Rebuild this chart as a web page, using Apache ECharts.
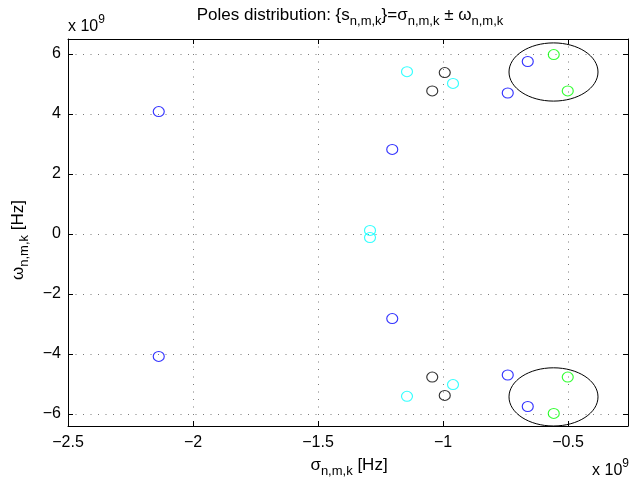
<!DOCTYPE html>
<html>
<head>
<meta charset="utf-8">
<script src="https://cdn.jsdelivr.net/npm/echarts@6/dist/echarts.min.js"></script>
<style>
html,body{margin:0;padding:0;background:#fff}
#c{width:631px;height:483px}
</style>
</head>
<body>
<div id="c"></div>
<script>
// Pole locations in units of 1e9 Hz: sigma (real part) and omega (imaginary part)
const blueSigma  = [-2.137, -2.137, -1.203, -1.203, -0.741, -0.741, -0.661, -0.661];
const blueOmega  = [ 4.08,  -4.08,   2.82,  -2.82,   4.70,  -4.70,   5.75,  -5.75];
const cyanSigma  = [-1.144, -1.144, -0.960, -0.960, -1.292, -1.292];
const cyanOmega  = [ 5.41,  -5.41,   5.02,  -5.02,   0.12,  -0.12];
const blackSigma = [-0.993, -0.993, -1.043, -1.043];
const blackOmega = [ 5.38,  -5.38,   4.77,  -4.77];
const greenSigma = [-0.557, -0.557, -0.501, -0.501];
const greenOmega = [ 5.98,  -5.98,   4.77,  -4.77];

// Ellipses enclosing the dominant pole pairs (center and semi-axes, 1e9 Hz)
const ellipseSigma  = [-0.558, -0.558];
const ellipseOmega  = [ 5.40,  -5.43];
const ellipseRSigma = [ 0.178,  0.178];
const ellipseROmega = [ 0.97,   0.97];

// Axis ranges and tick values
const xMin = -2.5, xMax = -0.26;
const yMin = -6.4, yMax = 6.5;
const xTicks = [-2.5, -2, -1.5, -1, -0.5];
const yTicks = [-6, -4, -2, 0, 2, 4, 6];

const FONT = 'Liberation Sans, Arial, Helvetica, sans-serif';
const minus = v => String(v).replace('-', '\u2212');

const pairs = (xs, ys) => xs.map((x, i) => [x, ys[i]]);

function poleSeries(name, xs, ys, color) {
  return {
    name, type: 'scatter',
    data: pairs(xs, ys),
    symbol: 'circle', symbolSize: [11, 10],
    itemStyle: { color: 'rgba(0,0,0,0)', borderColor: color, borderWidth: 1.1 },
    emphasis: { disabled: true },
    z: 5
  };
}

const dotted = { show: true, lineStyle: { color: '#7a7a7a', width: 1, type: [1, 6.5] } };

// rich text styles: main text, subscript, superscript
const RICH = {
  m: { fontSize: 17, fontFamily: FONT, lineHeight: 26, verticalAlign: 'middle' },
  s: { fontSize: 13, fontFamily: FONT, lineHeight: 12, verticalAlign: 'bottom' },
  t: { fontSize: 16, fontFamily: FONT, lineHeight: 26, verticalAlign: 'middle' },
  p: { fontSize: 12, fontFamily: FONT, lineHeight: 12, verticalAlign: 'top' }
};

const chart = echarts.init(document.getElementById('c'), null, { renderer: 'canvas' });
chart.setOption({
  animation: false,
  backgroundColor: '#fff',
  grid: { left: 68, right: 3, top: 39, bottom: 57, containLabel: false },
  xAxis: [{
    type: 'value', position: 'bottom', min: xMin, max: xMax,
    axisLine: { show: true, onZero: false, lineStyle: { color: '#000', width: 1 } },
    axisTick: { show: true, inside: true, length: 5, customValues: xTicks, lineStyle: { color: '#000' } },
    axisLabel: { show: true, customValues: xTicks, margin: 9, color: '#000', fontSize: 16, fontFamily: FONT, formatter: minus },
    splitLine: dotted
  }, {
    type: 'value', position: 'top', min: xMin, max: xMax,
    axisLine: { show: true, onZero: false, lineStyle: { color: '#000', width: 1 } },
    axisTick: { show: true, inside: true, length: 5, customValues: xTicks, lineStyle: { color: '#000' } },
    axisLabel: { show: false },
    splitLine: { show: false }
  }],
  yAxis: [{
    type: 'value', position: 'left', min: yMin, max: yMax,
    axisLine: { show: true, onZero: false, lineStyle: { color: '#000', width: 1 } },
    axisTick: { show: true, inside: true, length: 5, customValues: yTicks, lineStyle: { color: '#000' } },
    axisLabel: { show: true, customValues: yTicks, margin: 7, color: '#000', fontSize: 16, fontFamily: FONT, formatter: minus },
    splitLine: dotted
  }, {
    type: 'value', position: 'right', min: yMin, max: yMax,
    axisLine: { show: true, onZero: false, lineStyle: { color: '#000', width: 1 } },
    axisTick: { show: true, inside: true, length: 5, customValues: yTicks, lineStyle: { color: '#000' } },
    axisLabel: { show: false },
    splitLine: { show: false }
  }],
  series: [
    poleSeries('blue', blueSigma, blueOmega, '#0000ff'),
    poleSeries('cyan', cyanSigma, cyanOmega, '#00ffff'),
    poleSeries('black', blackSigma, blackOmega, '#000000'),
    poleSeries('green', greenSigma, greenOmega, '#00ff00'),
    {
      name: 'dominant', type: 'custom',
      data: ellipseSigma.map((s, i) => [s, ellipseOmega[i], ellipseRSigma[i], ellipseROmega[i]]),
      clip: false, z: 4,
      renderItem(params, api) {
        const c = api.coord([api.value(0), api.value(1)]);
        const s = api.size([api.value(2), api.value(3)]);
        return {
          type: 'ellipse',
          shape: { cx: c[0], cy: c[1], rx: s[0], ry: s[1] },
          style: { fill: 'none', stroke: '#000', lineWidth: 1 }
        };
      }
    }
  ],
  graphic: [
    {
      type: 'text', x: 350, y: 2,
      style: {
        text: '{m|Poles distribution: {s}{s|n,m,k}}{m|=\u03C3}{s|n,m,k}{m| \u00B1 \u03C9}{s|n,m,k}',
        align: 'center', verticalAlign: 'top', fill: '#000', font: '17px ' + FONT,
        rich: RICH
      }
    },
    {
      type: 'text', x: 349, y: 452,
      style: {
        text: '{m|\u03C3}{s|n,m,k}{m| [Hz]}',
        align: 'center', verticalAlign: 'top', fill: '#000', font: '17px ' + FONT,
        rich: RICH
      }
    },
    {
      type: 'text', x: 18, y: 240, rotation: Math.PI / 2,
      style: {
        text: '{m|\u03C9}{s|n,m,k}{m| [Hz]}',
        align: 'center', verticalAlign: 'middle', fill: '#000', font: '17px ' + FONT,
        rich: RICH
      }
    },
    {
      type: 'text', x: 68, y: 14,
      style: {
        text: '{t|x 10}{p|9}',
        align: 'left', verticalAlign: 'top', fill: '#000', font: '16px ' + FONT,
        rich: RICH
      }
    },
    {
      type: 'text', x: 629, y: 458,
      style: {
        text: '{t|x 10}{p|9}',
        align: 'right', verticalAlign: 'top', fill: '#000', font: '16px ' + FONT,
        rich: RICH
      }
    }
  ]
});
</script>
</body>
</html>
